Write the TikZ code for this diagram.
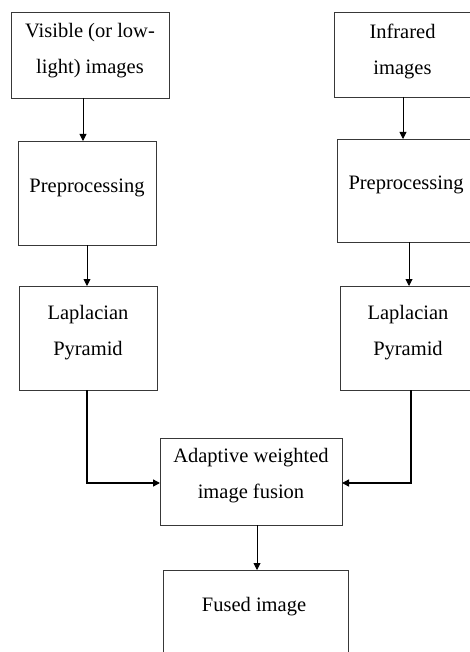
\documentclass[tikz,border=0pt]{standalone}
\usepackage{fontspec}
\setmainfont{Liberation Serif}
\usetikzlibrary{arrows.meta}
\begin{document}
\begin{tikzpicture}[x=1pt,y=-1pt,
  box/.style={draw=black!78, line width=0.9pt, inner sep=0pt, outer sep=0pt},
  lbl/.style={font=\fontsize{20.5}{36}\selectfont, align=center, inner sep=0pt},
  arr/.style={draw=black, line width=0.9pt, -{Triangle[length=7pt,width=7pt]}},
  heavyarr/.style={arr, line width=1.4pt}]
\useasboundingbox (0,0) rectangle (470,652);
\clip (0,0) rectangle (470,652);
% boxes
\node[box, minimum width=158pt, minimum height=86pt] (b1) at (90,55) {};
\node[box, minimum width=138pt, minimum height=85pt] (b2) at (403,54.5) {};
\node[box, minimum width=138pt, minimum height=104pt] (b3) at (87,193) {};
\node[box, minimum width=144pt, minimum height=103pt] (b4) at (409,190.5) {};
\node[box, minimum width=138pt, minimum height=104pt] (b5) at (88,338) {};
\node[box, minimum width=142pt, minimum height=104pt] (b6) at (411,338) {};
\node[box, minimum width=182pt, minimum height=87pt] (b7) at (251,481.5) {};
\node[box, minimum width=185pt, minimum height=90pt] (b8) at (255.5,615) {};
% texts
\node[lbl] (t1) at (90,51) {Visible (or low-\\light) images};
\node[lbl] (t2) at (402.5,51) {Infrared\\images};
\node[lbl] (t3) at (87,188) {Preprocessing};
\node[lbl] (t4) at (406,185) {Preprocessing};
\node[lbl] (t5) at (88,333) {Laplacian\\Pyramid};
\node[lbl] (t6) at (408,333) {Laplacian\\Pyramid};
\node[lbl] (t7) at (251,476) {Adaptive weighted\\image fusion};
\node[lbl] (t8) at (254,607) {Fused image};
% connectors
\draw[arr] (b1.south -| 83,0) -- (b3.north -| 83,0);
\draw[arr] (b3.south -| 87,0) -- (b5.north -| 87,0);
\draw[arr] (b2.south -| 403,0) -- (b4.north -| 403,0);
\draw[arr] (b4.south -| 409,0) -- (b6.north -| 409,0);
\draw[heavyarr] (b5.south -| 87,0) |- (b7.west |- 0,483);
\draw[heavyarr] (b6.south -| 411,0) |- (b7.east |- 0,483);
\draw[arr] (b7.south -| 257,0) -- (b8.north -| 257,0);
\end{tikzpicture}
\end{document}
